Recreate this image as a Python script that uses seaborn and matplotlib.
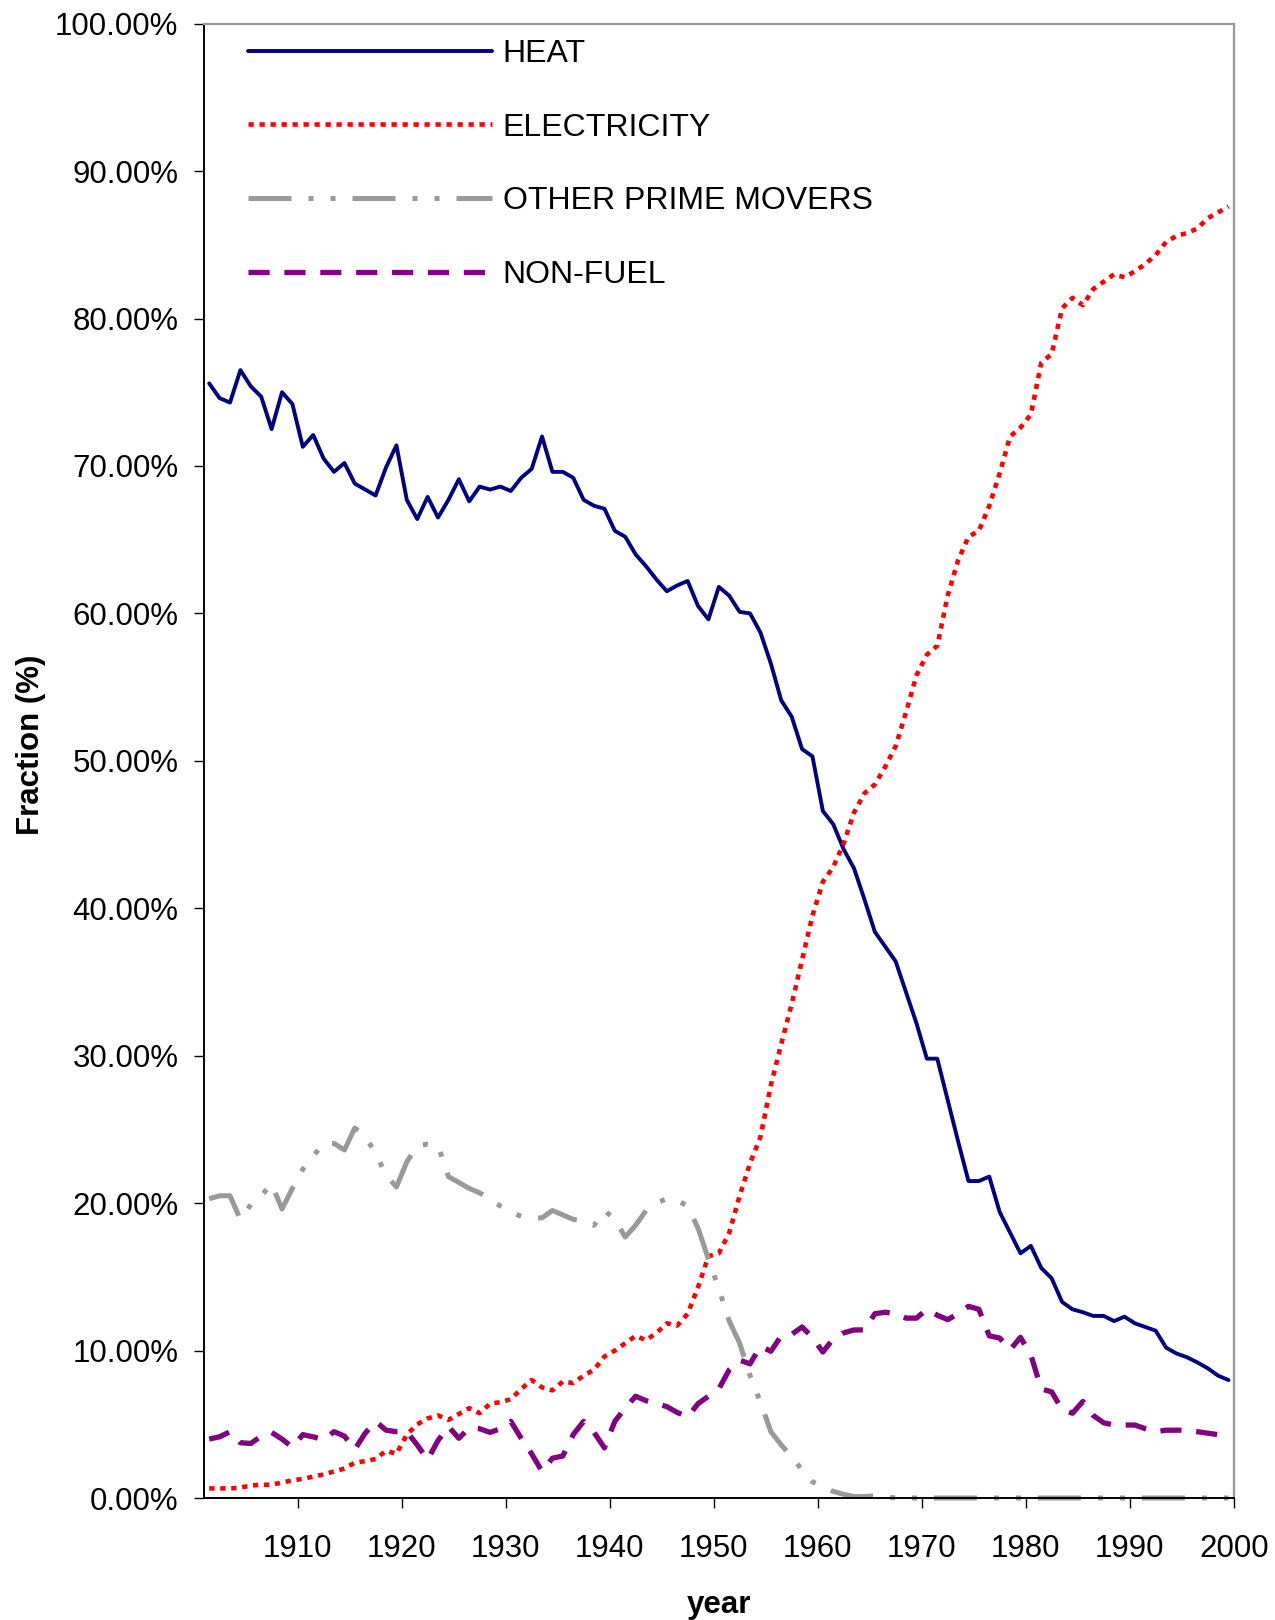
import numpy as np
import pandas as pd
import matplotlib
matplotlib.use("Agg")
import matplotlib.pyplot as plt
import seaborn as sns
from matplotlib.ticker import FuncFormatter

# annual shares (%) 1901-1999
years = list(range(1901, 2000))

heat = [75.6, 74.6, 74.3, 76.5, 75.4, 74.7, 72.5, 75.0, 74.2, 71.3,
        72.1, 70.5, 69.6, 70.2, 68.8, 68.4, 68.0, 69.9, 71.4, 67.7,
        66.4, 67.9, 66.5, 67.7, 69.1, 67.6, 68.6, 68.4, 68.6, 68.3,
        69.2, 69.8, 72.0, 69.6, 69.6, 69.2, 67.7, 67.3, 67.1, 65.6,
        65.2, 64.0, 63.2, 62.3, 61.5, 61.9, 62.2, 60.5, 59.6, 61.8,
        61.2, 60.1, 60.0, 58.7, 56.6, 54.1, 53.0, 50.8, 50.3, 46.6,
        45.7, 44.0, 42.7, 40.6, 38.4, 37.4, 36.4, 34.3, 32.2, 29.8,
        29.8, 27.0, 24.2, 21.5, 21.5, 21.8, 19.4, 18.0, 16.6, 17.1,
        15.6, 14.9, 13.3, 12.8, 12.6, 12.35, 12.35, 12.0, 12.3, 11.85,
        11.6, 11.35, 10.2, 9.8, 9.55, 9.2, 8.8, 8.3, 8.0]

electricity = [0.65, 0.65, 0.65, 0.7, 0.85, 0.9, 0.9, 1.05, 1.2, 1.3,
               1.45, 1.6, 1.8, 2.0, 2.4, 2.5, 2.65, 3.2, 3.0, 4.3,
               5.0, 5.4, 5.6, 5.3, 5.7, 6.1, 5.75, 6.4, 6.5, 6.7,
               7.4, 8.0, 7.5, 7.3, 7.9, 7.8, 8.3, 8.7, 9.6, 10.0,
               10.5, 11.0, 10.7, 11.2, 11.85, 11.7, 12.5, 14.3, 16.4, 16.6,
               18.0, 20.5, 22.7, 24.5, 28.0, 30.8, 33.5, 36.5, 39.5, 41.8,
               42.8, 44.4, 46.5, 47.8, 48.4, 49.6, 51.0, 53.3, 55.8, 57.2,
               57.8, 61.2, 63.6, 65.2, 65.6, 67.3, 69.5, 72.0, 72.6, 73.5,
               77.0, 77.6, 80.7, 81.4, 80.9, 82.0, 82.5, 83.0, 82.8, 83.2,
               83.7, 84.3, 85.2, 85.6, 85.8, 86.1, 86.8, 87.2, 87.6]

other_prime_movers = [20.3, 20.5, 20.5, 18.9, 19.9, 20.5, 21.3, 19.6, 21.0, 22.3,
                      23.2, 24.05, 24.05, 23.6, 25.1, 24.5, 23.4, 21.9, 21.1, 22.8,
                      23.9, 24.0, 23.9, 21.8, 21.4, 21.0, 20.7, 20.3, 19.8, 19.4,
                      19.1, 19.0, 19.0, 19.5, 19.2, 18.9, 18.8, 18.5, 19.5, 18.9,
                      17.7, 18.5, 19.5, 20.0, 20.3, 20.2, 19.8, 18.3, 16.2, 14.2,
                      12.0, 10.5, 8.3, 6.5, 4.5, 3.6, 2.8, 1.9, 1.1, 0.75,
                      0.45, 0.25, 0.1, 0.1, 0.15, 0.1, 0.0, 0.0, 0.0, 0.0,
                      0.0, 0.0, 0.0, 0.0, 0.0, 0.0, 0.0, 0.0, 0.0, 0.0,
                      0.0, 0.0, 0.0, 0.0, 0.0, 0.0, 0.0, 0.0, 0.0, 0.0,
                      0.0, 0.0, 0.0, 0.0, 0.0, 0.0, 0.0, 0.0, 0.0]

non_fuel = [4.0, 4.15, 4.5, 3.75, 3.7, 4.2, 4.45, 4.0, 3.45, 4.3,
            4.15, 3.95, 4.5, 4.2, 3.3, 4.4, 5.2, 4.6, 4.5, 4.5,
            3.6, 2.6, 3.9, 4.85, 4.05, 4.75, 4.7, 4.45, 4.7, 5.2,
            4.05, 3.0, 1.8, 2.7, 2.85, 4.3, 5.2, 4.45, 3.4, 5.2,
            6.1, 6.9, 6.6, 6.4, 6.2, 5.8, 5.5, 6.4, 6.9, 7.4,
            8.7, 9.35, 9.1, 10.3, 9.95, 11.0, 11.1, 11.6, 10.9, 9.9,
            10.8, 11.2, 11.4, 11.4, 12.5, 12.6, 12.5, 12.2, 12.2, 12.8,
            12.4, 12.1, 12.5, 13.0, 12.8, 11.0, 10.85, 10.05, 10.9, 9.7,
            7.4, 7.2, 6.0, 5.75, 6.55, 5.6, 5.1, 4.95, 4.95, 4.95,
            4.7, 4.5, 4.6, 4.6, 4.6, 4.5, 4.4, 4.3, 4.15]

series_names = ['HEAT', 'ELECTRICITY', 'OTHER PRIME MOVERS', 'NON-FUEL']
series_values = [heat, electricity, other_prime_movers, non_fuel]
x_ticks = [1910, 1920, 1930, 1940, 1950, 1960, 1970, 1980, 1990, 2000]
y_ticks = [0, 10, 20, 30, 40, 50, 60, 70, 80, 90, 100]

# long-form table for seaborn; each year is plotted at mid-year
df = pd.concat([
    pd.DataFrame({'year': np.array(years) + 0.5, 'value': vals, 'series': name})
    for name, vals in zip(series_names, series_values)
], ignore_index=True)

line_styles = {
    'HEAT': dict(color='#000080', lw=2.8, ls='-'),
    'ELECTRICITY': dict(color='#FF0000', lw=3.3, ls=(0, (1.15, 1.25))),
    'OTHER PRIME MOVERS': dict(color='#999999', lw=3.6, ls=(0, (8.6, 3.4, 1.0, 3.4, 1.0, 3.4))),
    'NON-FUEL': dict(color='#800080', lw=3.8, ls=(0, (4.0, 2.8))),
}

sns.set_style('white')
plt.rcParams['font.family'] = ['Liberation Sans', 'DejaVu Sans']
plt.rcParams.update({'text.color': 'black', 'axes.labelcolor': 'black',
                     'xtick.color': 'black', 'ytick.color': 'black'})
FS = 22.5

fig = plt.figure(figsize=(12.75, 16.2), dpi=100)
ax = fig.add_axes([0.16, 0.0753, 0.8076, 0.9101])

for name in series_names:
    st = line_styles[name]
    sub = df[df['series'] == name]
    sns.lineplot(data=sub, x='year', y='value', ax=ax, label=name,
                 color=st['color'], linewidth=st['lw'], linestyle=st['ls'],
                 estimator=None, sort=False, clip_on=False)

ax.set_xlim(1901, 2000)
ax.set_ylim(0, 100)
ax.set_xticks(x_ticks)
ax.set_yticks(y_ticks)
ax.yaxis.set_major_formatter(FuncFormatter(lambda v, p: f'{v:.2f}%'))

ax.tick_params(axis='both', which='major', direction='out', length=7, width=1,
               color='black', labelcolor='black', labelsize=FS, bottom=True, left=True)
ax.tick_params(axis='y', pad=11.5)
ax.tick_params(axis='x', pad=19)

for side in ['left', 'bottom']:
    ax.spines[side].set_color('black')
    ax.spines[side].set_linewidth(1.4)
for side in ['top', 'right']:
    ax.spines[side].set_color('#999999')
    ax.spines[side].set_linewidth(1.6)

ax.set_xlabel('year', fontsize=FS, fontweight='bold', labelpad=18.5, color='black')
ax.set_ylabel('Fraction (%)', fontsize=FS, fontweight='bold', color='black')
ax.yaxis.set_label_coords(-0.153, 0.511)

ax.legend(loc='upper left', bbox_to_anchor=(0.0427, 0.9897), frameon=False,
          fontsize=23, handlelength=7.65, handletextpad=0.32, labelspacing=1.37,
          borderpad=0, borderaxespad=0)

fig.savefig('out.png', dpi=100)
